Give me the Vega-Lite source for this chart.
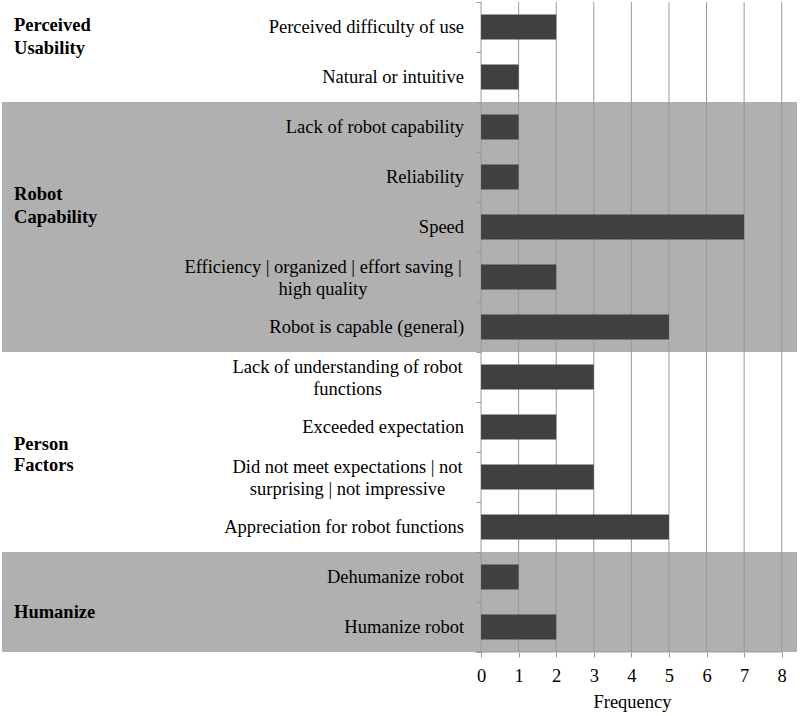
{
  "$schema": "https://vega.github.io/schema/vega-lite/v6.json",
  "width": 800,
  "height": 650,
  "autosize": {"type": "none"},
  "padding": {"left": 0, "right": 0, "top": 2, "bottom": 64},
  "background": "white",
  "config": {"view": {"stroke": null}, "font": "Liberation Serif, Times New Roman, serif"},
  "datasets": {
    "rows": [
      {"group": "Perceived Usability", "label": "Perceived difficulty of use", "value": 2},
      {"group": "Perceived Usability", "label": "Natural or intuitive", "value": 1},
      {"group": "Robot Capability", "label": "Lack of robot capability", "value": 1},
      {"group": "Robot Capability", "label": "Reliability", "value": 1},
      {"group": "Robot Capability", "label": "Speed", "value": 7},
      {"group": "Robot Capability", "label": "Efficiency | organized | effort saving |\nhigh quality", "value": 2},
      {"group": "Robot Capability", "label": "Robot is capable (general)", "value": 5},
      {"group": "Person Factors", "label": "Lack of understanding of robot\nfunctions", "value": 3},
      {"group": "Person Factors", "label": "Exceeded expectation", "value": 2},
      {"group": "Person Factors", "label": "Did not meet expectations | not\nsurprising | not impressive", "value": 3},
      {"group": "Person Factors", "label": "Appreciation for robot functions", "value": 5},
      {"group": "Humanize", "label": "Dehumanize robot", "value": 1},
      {"group": "Humanize", "label": "Humanize robot", "value": 2}
    ],
    "ticks": [
      {"value": 0}, {"value": 1}, {"value": 2}, {"value": 3}, {"value": 4},
      {"value": 5}, {"value": 6}, {"value": 7}, {"value": 8}
    ]
  },
  "data": {"name": "rows"},
  "layer": [
    {
      "transform": [{"filter": "datum.group == 'Robot Capability' || datum.group == 'Humanize'"}],
      "mark": {"type": "rect", "color": "#b0b0b0"},
      "encoding": {
        "y": {"field": "label", "type": "nominal", "sort": null,
              "scale": {"domain": ["Perceived difficulty of use", "Natural or intuitive", "Lack of robot capability", "Reliability", "Speed", "Efficiency | organized | effort saving |\nhigh quality", "Robot is capable (general)", "Lack of understanding of robot\nfunctions", "Exceeded expectation", "Did not meet expectations | not\nsurprising | not impressive", "Appreciation for robot functions", "Dehumanize robot", "Humanize robot"],
                        "paddingInner": 0, "paddingOuter": 0}},
        "x": {"datum": -12.747, "type": "quantitative"},
        "x2": {"datum": 8.407}
      }
    },
    {
      "transform": [{"filter": "datum.label == 'Humanize robot'"}],
      "mark": {"type": "rect", "color": "#b0b0b0", "y2Offset": 10},
      "encoding": {
        "y": {"field": "label", "type": "nominal", "sort": null},
        "x": {"datum": -12.747, "type": "quantitative"},
        "x2": {"datum": 8.407}
      }
    },
    {
      "data": {"name": "ticks"},
      "mark": {"type": "rule", "color": "#999999", "strokeWidth": 1},
      "encoding": {
        "x": {"field": "value", "type": "quantitative", "title": "Frequency"}
      }
    },
    {
      "mark": {"type": "bar", "color": "#404040", "height": {"band": 0.5}},
      "encoding": {
        "y": {"field": "label", "type": "nominal", "sort": null,
              "axis": {"orient": "left", "offset": -481, "labels": false, "domain": false, "grid": false,
                       "ticks": true, "tickBand": "extent", "tickSize": 5, "tickColor": "#999999", "title": null, "zindex": 1}},
        "x": {"field": "value", "type": "quantitative", "title": "Frequency",
              "scale": {"domain": [-12.8, 8.487], "nice": false, "zero": false},
              "axis": {"values": [0, 1, 2, 3, 4, 5, 6, 7, 8], "grid": false, "domain": false, "ticks": true,
                       "tickSize": 5, "tickColor": "#999999", "labelFont": "Liberation Serif, Times New Roman, serif", "labelFontSize": 18.5,
                       "labelColor": "#000000", "labelPadding": 9, "title": "Frequency", "titleFont": "Liberation Serif, Times New Roman, serif",
                       "titleFontSize": 18.5, "titleFontWeight": "normal", "titleColor": "#000000", "titlePadding": 8,
                       "titleX": 632, "titleAnchor": "middle", "titleAlign": "center", "zindex": 1}}
      }
    },
    {
      "transform": [{"filter": "datum.label == 'Humanize robot'"}],
      "mark": {"type": "rule", "color": "#999999", "strokeWidth": 1},
      "encoding": {
        "y": {"field": "label", "type": "nominal", "sort": null, "bandPosition": 1},
        "x": {"datum": -0.16, "type": "quantitative"},
        "x2": {"datum": 8}
      }
    },
    {
      "transform": [{"filter": "indexof(datum.label, '\\n') < 0"}],
      "mark": {"type": "text", "align": "right", "baseline": "middle", "fontSize": 18.5, "font": "Liberation Serif, Times New Roman, serif",
               "color": "#000000", "lineBreak": "\n", "lineHeight": 22},
      "encoding": {
        "y": {"field": "label", "type": "nominal", "sort": null},
        "x": {"datum": -0.452, "type": "quantitative"},
        "text": {"field": "label"}
      }
    },
    {
      "transform": [{"filter": "indexof(datum.label, 'Efficiency') == 0"}],
      "mark": {"type": "text", "align": "center", "baseline": "middle", "fontSize": 18.5, "font": "Liberation Serif, Times New Roman, serif",
               "color": "#000000", "lineBreak": "\n", "lineHeight": 22, "dy": -10},
      "encoding": {
        "y": {"field": "label", "type": "nominal", "sort": null},
        "x": {"datum": -4.204, "type": "quantitative"},
        "text": {"field": "label"}
      }
    },
    {
      "transform": [{"filter": "indexof(datum.label, '\\n') >= 0 && indexof(datum.label, 'Efficiency') < 0"}],
      "mark": {"type": "text", "align": "center", "baseline": "middle", "fontSize": 18.5, "font": "Liberation Serif, Times New Roman, serif",
               "color": "#000000", "lineBreak": "\n", "lineHeight": 22, "dy": -10},
      "encoding": {
        "y": {"field": "label", "type": "nominal", "sort": null},
        "x": {"datum": -3.552, "type": "quantitative"},
        "text": {"field": "label"}
      }
    },
    {
      "transform": [{"filter": "datum.label == 'Perceived difficulty of use'"}],
      "mark": {"type": "text", "align": "left", "baseline": "middle", "fontSize": 18.5, "fontWeight": "bold",
               "font": "Liberation Serif, Times New Roman, serif", "color": "#000000", "lineBreak": " ", "lineHeight": 23, "dy": -2},
      "encoding": {
        "y": {"field": "label", "type": "nominal", "sort": null},
        "x": {"datum": -12.427, "type": "quantitative"},
        "text": {"field": "group"}
      }
    },
    {
      "transform": [{"filter": "datum.label == 'Speed'"}],
      "mark": {"type": "text", "align": "left", "baseline": "middle", "fontSize": 18.5, "fontWeight": "bold",
               "font": "Liberation Serif, Times New Roman, serif", "color": "#000000", "lineBreak": " ", "lineHeight": 23, "dy": -33},
      "encoding": {
        "y": {"field": "label", "type": "nominal", "sort": null},
        "x": {"datum": -12.427, "type": "quantitative"},
        "text": {"field": "group"}
      }
    },
    {
      "transform": [{"filter": "datum.label == 'Did not meet expectations | not\\nsurprising | not impressive'"}],
      "mark": {"type": "text", "align": "left", "baseline": "middle", "fontSize": 18.5, "fontWeight": "bold",
               "font": "Liberation Serif, Times New Roman, serif", "color": "#000000", "lineBreak": " ", "lineHeight": 21, "dy": -33},
      "encoding": {
        "y": {"field": "label", "type": "nominal", "sort": null},
        "x": {"datum": -12.427, "type": "quantitative"},
        "text": {"field": "group"}
      }
    },
    {
      "transform": [{"filter": "datum.label == 'Humanize robot'"}],
      "mark": {"type": "text", "align": "left", "baseline": "middle", "fontSize": 18.5, "fontWeight": "bold",
               "font": "Liberation Serif, Times New Roman, serif", "color": "#000000", "lineBreak": " ", "lineHeight": 23, "dy": -15},
      "encoding": {
        "y": {"field": "label", "type": "nominal", "sort": null},
        "x": {"datum": -12.427, "type": "quantitative"},
        "text": {"field": "group"}
      }
    }
  ]
}
